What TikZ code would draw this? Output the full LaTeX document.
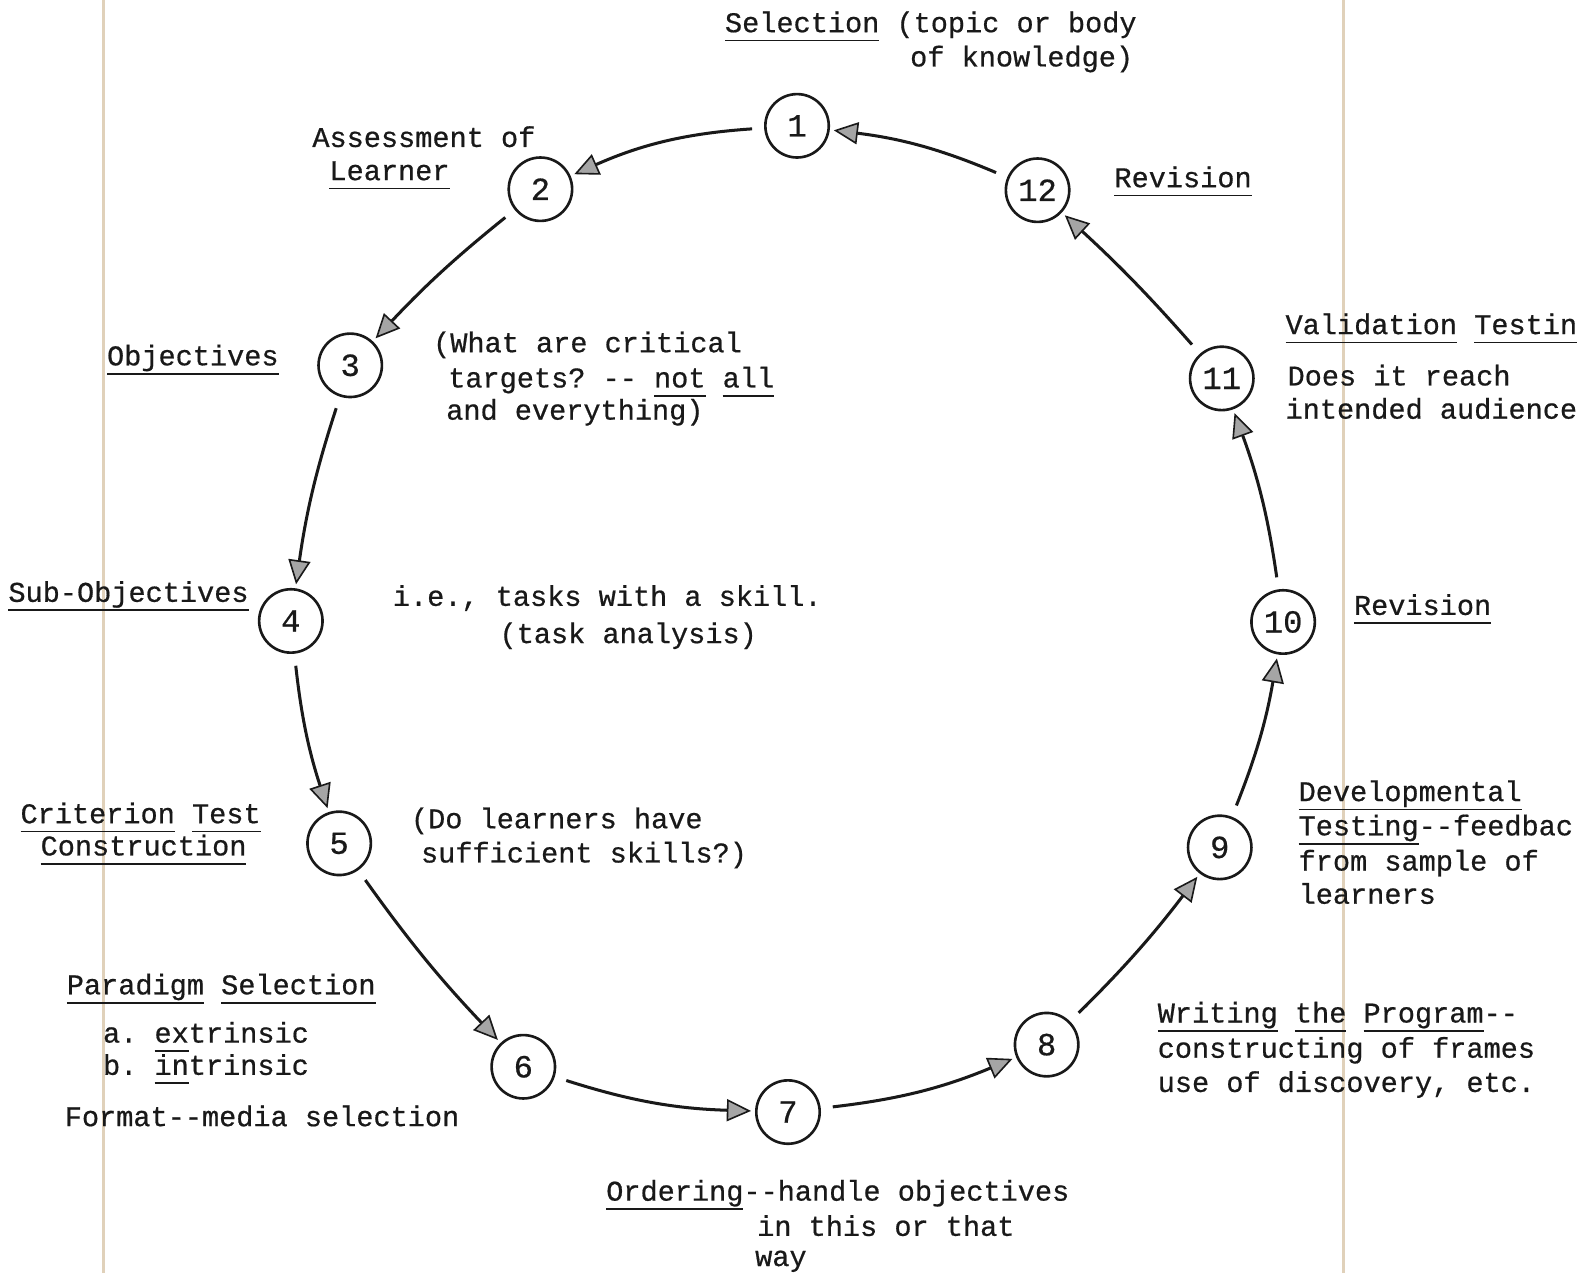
\documentclass[tikz,border=0pt]{standalone}
\usepackage{fontspec}
\setmainfont{Liberation Mono}[FakeBold=0.6]
\usetikzlibrary{arrows.meta}
\definecolor{scanline}{RGB}{224,209,186}
\definecolor{inkgray}{RGB}{165,165,165}
\definecolor{ink}{RGB}{25,25,25}
\newcommand{\tul}[1]{\setbox0\hbox{#1}\rlap{\rule[-4.6pt]{\wd0}{0.9pt}}\box0\relax}
\tikzset{
  stage/.style={circle, draw=ink, text=ink, line width=1.3pt, minimum size=31.5pt, inner sep=0pt,
    font=\fontsize{16}{18}\selectfont},
  lbl/.style={anchor=base west, inner sep=0pt, text=ink, font=\fontsize{14.2}{17}\selectfont},
  flow/.style={draw=ink, line width=1.5pt,
    -{Triangle[length=12pt,width=11pt,fill=inkgray,line width=0.8pt]},
    shorten <=6pt, shorten >=2pt},
  edge/.style={draw=scanline, line width=1.4pt}
}
\begin{document}
\frenchspacing
\begin{tikzpicture}[x=0.5pt,y=-0.5pt]
\useasboundingbox (0,0) rectangle (1568,1265);
\fill[white] (0,0) rectangle (1568,1265);
% page edges of the scan
\draw[edge] (103,0) -- (103,1265);
\draw[edge] (1335,0) -- (1335,1265);

% stages
\node[stage] (n1)  at (792,125)  {1};
\node[stage] (n2)  at (537,188)  {2};
\node[stage] (n3)  at (348,363)  {3};
\node[stage] (n4)  at (289,617)  {4};
\node[stage] (n5)  at (337,838)  {5};
\node[stage] (n6)  at (520,1060) {6};
\node[stage] (n7)  at (783,1105) {7};
\node[stage] (n8)  at (1040,1038) {8};
\node[stage] (n9)  at (1212,842) {9};
\node[stage] (n10) at (1275,618) {10};
\node[stage] (n11) at (1214,376) {11};
\node[stage] (n12) at (1031,189) {12};

% connectors
\draw[flow] (n1)  to[bend right=10] (n2);
\draw[flow] (n2)  to[bend right=4]  (n3);
\draw[flow] (n3)  to[bend right=5]  (n4);
\draw[flow] (n4)  to[bend right=6]  (n5);
\draw[flow] (n5)  to[bend right=4]  (n6);
\draw[flow] (n6)  to[bend right=8]  (n7);
\draw[flow] (n7)  to[bend right=8]  (n8);
\draw[flow] (n8)  to[bend right=4]  (n9);
\draw[flow] (n9)  to[bend right=6]  (n10);
\draw[flow] (n10) to[bend right=6]  (n11);
\draw[flow] (n11) to[bend right=3]  (n12);
\draw[flow] (n12) to[bend right=8]  (n1);

% labels
\node[lbl] (t1a) at (720,32)  {\tul{Selection} (topic or body};
\node[lbl] (t1b) at (904,66)  {of knowledge)};
\node[lbl] (t2a) at (310,146) {Assessment of};
\node[lbl] (t2b) at (327,179) {\tul{Learner}};
\node[lbl] (t3)  at (106,363) {\tul{Objectives}};
\node[lbl] (t3a) at (430,350) {(What are critical};
\node[lbl] (t3b) at (445,385) {targets? -{}- \tul{not} \tul{all}};
\node[lbl] (t3c) at (443,417) {and everything)};
\node[lbl] (t4)  at (8,598)   {\tul{Sub-Objectives}};
\node[lbl] (t4a) at (390,602) {i.e., tasks with a skill.};
\node[lbl] (t4b) at (496,639) {(task analysis)};
\node[lbl] (t5a) at (20,818)  {\tul{Criterion} \tul{Test}};
\node[lbl] (t5b) at (40,850)  {\tul{Construction}};
\node[lbl] (t5c) at (408,823) {(Do learners have};
\node[lbl] (t5d) at (418,857) {sufficient skills?)};
\node[lbl] (t6a) at (66,988)  {\tul{Paradigm} \tul{Selection}};
\node[lbl] (t6b) at (102,1036) {a. \tul{ex}trinsic};
\node[lbl] (t6c) at (102,1068) {b. \tul{in}trinsic};
\node[lbl] (t6d) at (64,1119) {Format-{}-media selection};
\node[lbl] (t7a) at (602,1193) {\tul{Ordering}-{}-handle objectives};
\node[lbl] (t7b) at (752,1228) {in this or that};
\node[lbl] (t7c) at (750,1258) {way};
\node[lbl] (t8a) at (1150,1016) {\tul{Writing} \tul{the} \tul{Program}-{}-};
\node[lbl] (t8b) at (1150,1051) {constructing of frames};
\node[lbl] (t8c) at (1150,1085) {use of discovery, etc.};
\node[lbl] (t9a) at (1290,796) {\tul{Developmental}};
\node[lbl] (t9b) at (1290,830) {\tul{Testing}-{}-feedbac};
\node[lbl] (t9c) at (1290,865) {from sample of};
\node[lbl] (t9d) at (1290,898) {learners};
\node[lbl] (t10) at (1345,611) {\tul{Revision}};
\node[lbl] (t11a) at (1277,332) {\tul{Validation} \tul{Testin}};
\node[lbl] (t11b) at (1279,383) {Does it reach};
\node[lbl] (t11c) at (1277,416) {intended audience};
\node[lbl] (t12) at (1107,186) {\tul{Revision}};
\end{tikzpicture}
\end{document}
